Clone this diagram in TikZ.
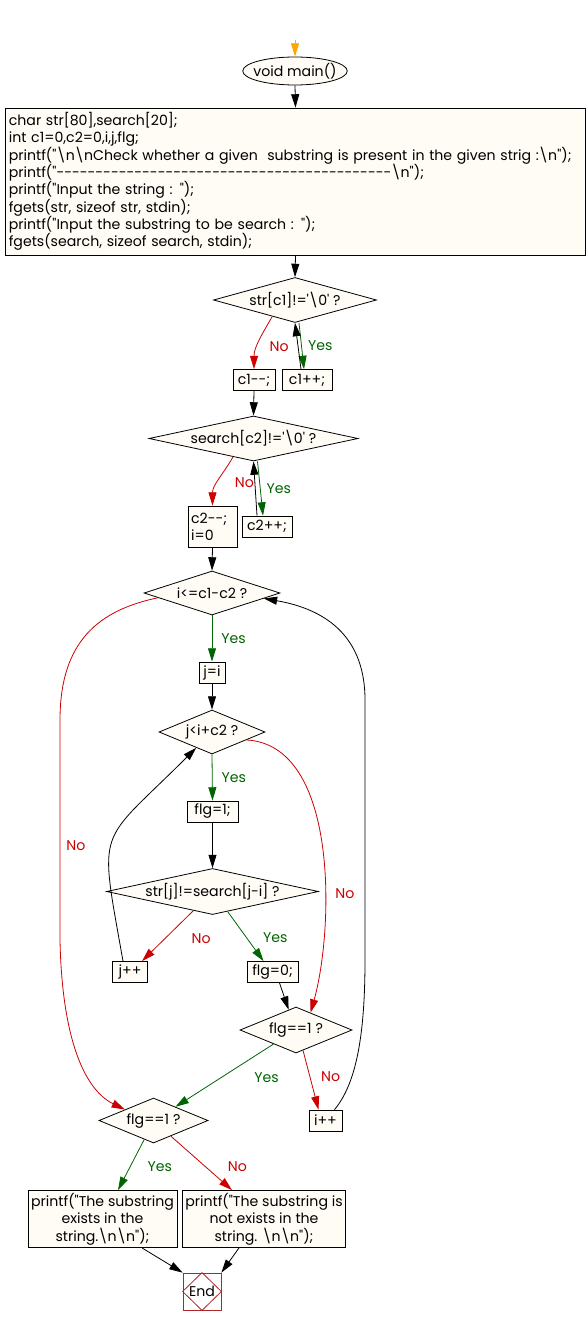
\documentclass[tikz,border=0pt]{standalone}
\usepackage{fontspec}
\setmainfont{Poppins}[Ligatures={TeXOff,CommonOff}]
\usetikzlibrary{arrows.meta, calc, shapes.geometric}
\definecolor{fcfill}{RGB}{255,252,245}
\definecolor{fcred}{RGB}{204,0,0}
\definecolor{fcgreen}{RGB}{0,100,0}
\definecolor{fcorange}{RGB}{255,165,0}
\definecolor{fcend}{RGB}{170,40,40}
\tikzset{
    fcbox/.style={rectangle, draw=black, fill=fcfill, line width=0.6pt, inner sep=2pt, minimum height=15.75pt, font=\fontsize{10.6}{13}\selectfont},
    fcdecision/.style={diamond, draw=black, fill=fcfill, line width=0.6pt, inner sep=0pt, font=\fontsize{10.6}{13}\selectfont},
    fcterminal/.style={ellipse, draw=black, fill=fcfill, line width=0.6pt, inner xsep=-3.5pt, inner ysep=0pt, font=\fontsize{10.6}{13}\selectfont},
    fcend/.style={rectangle, draw=fcend, fill=white, line width=0.6pt, inner sep=0pt, minimum width=28.5pt, minimum height=27.75pt, font=\fontsize{10.6}{13}\selectfont},
    fcarrow/.style={-{Triangle[length=10pt,width=6pt]}, line width=0.6pt, draw=black},
    fcyes/.style={fcarrow, draw=fcgreen},
    fcno/.style={fcarrow, draw=fcred},
    fcyeslabel/.style={text=fcgreen, font=\fontsize{10.6}{13}\selectfont, inner sep=0pt},
    fcnolabel/.style={text=fcred, font=\fontsize{10.6}{13}\selectfont, inner sep=0pt}
}

\begin{document}
\begin{tikzpicture}[x=0.75pt, y=-0.75pt]
    \useasboundingbox (0,0) rectangle (588,1326);

    % Start and declarations
    \coordinate (entry) at (295,40);
    \node[fcterminal, minimum width=78pt, minimum height=21pt] (main) at (295,71) {void main()};
    \node[fcbox, align=left, text width=430pt, minimum height=110.25pt, inner xsep=2.5pt] (init) at (295.5,181.5) {%
        char str[80],search[20];\\
        int c1=0,c2=0,i,j,flg;\\
        printf("\textbackslash n\textbackslash nCheck whether a given\ \ substring is present in the given strig :\textbackslash n");\\
        printf("-------------------------------------------\textbackslash n");\\
        printf("Input the string : ");\\
        fgets(str, sizeof str, stdin);\\
        printf("Input the substring to be search : ");\\
        fgets(search, sizeof search, stdin);};

    % Length counters
    \node[fcdecision, minimum width=122.25pt, minimum height=33.75pt, aspect=3.6] (d1) at (295,300) {str[c1]!='\textbackslash 0' ?};
    \node[fcbox, minimum width=31.5pt] (c1m) at (254,380) {c1--;};
    \node[fcbox, minimum width=37.5pt] (c1p) at (307,380) {c1++;};
    \node[fcdecision, minimum width=156.75pt, minimum height=33.75pt, aspect=4.6] (d2) at (253.5,438.5) {search[c2]!='\textbackslash 0' ?};
    \node[fcbox, minimum width=36.75pt, minimum height=30.75pt, text width=32pt, align=left] (c2m) at (212.5,526.5) {c2--;\\i=0};
    \node[fcbox, minimum width=37.5pt] (c2p) at (267,526.5) {c2++;};

    % Search loops
    \node[fcdecision, minimum width=102pt, minimum height=33pt, aspect=3.1] (d3) at (212,593) {i<=c1-c2 ?};
    \node[fcbox, minimum width=19.5pt] (ji) at (212,672.5) {j=i};
    \node[fcdecision, minimum width=79.5pt, minimum height=33pt, aspect=2.4] (d4) at (212,732) {j<i+c2 ?};
    \node[fcbox, minimum width=38.25pt] (f1) at (212.5,811.5) {flg=1;};
    \node[fcdecision, minimum width=156.75pt, minimum height=33.75pt, aspect=4.6] (d5) at (212.5,891.5) {str[j]!=search[j-i] ?};
    \node[fcbox, minimum width=26.25pt] (jpp) at (130,972) {j++};
    \node[fcbox, minimum width=38.25pt] (f0) at (272.5,972) {flg=0;};
    \node[fcdecision, minimum width=84pt, minimum height=34.5pt, aspect=2.4] (d6) at (296,1030) {flg==1 ?};
    \node[fcbox, minimum width=24.75pt] (ipp) at (325.5,1120.5) {i++};

    % Result
    \node[fcdecision, minimum width=81.75pt, minimum height=33.75pt, aspect=2.4] (d7) at (153.5,1120.5) {flg==1 ?};
    \node[fcbox, minimum width=111.75pt, minimum height=42pt, align=center] (outY) at (102.5,1219) {printf("The substring\\exists in the\\string.\textbackslash n\textbackslash n");};
    \node[fcbox, minimum width=121.5pt, minimum height=42pt, align=center] (outN) at (264,1219) {printf("The substring is\\not exists in the\\string. \textbackslash n\textbackslash n");};
    \node[fcend] (fin) at (202,1291.5) {End};
    \draw[draw=fcend, line width=0.6pt] (fin.north) -- (fin.east) -- (fin.south) -- (fin.west) -- cycle;

    % Straight flow
    \draw[fcarrow, draw=fcorange] (entry) -- (main.north);
    \draw[fcarrow] (main.south) -- (init.north);
    \draw[fcarrow] (init.south) -- (d1.north);
    \draw[fcarrow] (c1m.south) -- (d2.north);
    \draw[fcarrow] (c2m.south) -- (d3.north);
    \draw[fcarrow] (ji.south) -- (d4.north);
    \draw[fcarrow] (f1.south) -- (d5.north);
    \draw[fcarrow] ($(f0.south)+(7,0)$) -- (d6.110);
    \draw[fcarrow] ($(outY.south)+(39.5,0)$) -- (fin.north west);
    \draw[fcarrow] ($(outN.south)+(-25,0)$) -- (fin.north east);

    % Counting c1 and c2
    \draw[fcno] (d1.216) to[out=240,in=90] node[fcnolabel, right=9pt, pos=0.6] {No} (c1m.north);
    \draw[fcyes] ($(d1.south)+(4,0)$) -- node[fcyeslabel, right=4.7pt] {Yes} ($(c1p.north)+(-3,0)$);
    \draw[fcarrow] ($(c1p.north)+(-6,0)$) -- (d1.south);
    \draw[fcno] (d2.222) to[out=240,in=90] node[fcnolabel, right=12.5pt, pos=0.55] {No} (c2m.north);
    \draw[fcyes] ($(d2.south)+(4,0)$) -- node[fcyeslabel, right=4.5pt] {Yes} ($(c2p.north)+(-4,0)$);
    \draw[fcarrow] ($(c2p.north)+(-10,0)$) -- (d2.south);

    % Outer and inner loop
    \draw[fcyes] (d3.south) -- node[fcyeslabel, right=6.75pt] {Yes} (ji.north);
    \draw[fcyes] (d4.south) -- node[fcyeslabel, right=6.75pt] {Yes} (f1.north);
    \draw[fcno] (d5.225) -- node[fcnolabel, right=20pt, pos=0.56] {No} ($(jpp.north)+(12,0)$);
    \draw[fcyes] (d5.307) -- node[fcyeslabel, right=12pt, pos=0.53] {Yes} ($(f0.north)+(-9,0)$);
    \draw[fcarrow] ($(jpp.north)+(-7,0)$) to[out=100,in=225,looseness=1.6] (d4.225);
    \draw[fcno] (d4.347) .. controls +(93,5) and +(23,-82) .. node[fcnolabel, right=7.5pt, pos=0.63] {No} (d6.50);
    \draw[fcno] (d6.289) -- node[fcnolabel, right=8pt, pos=0.45] {No} ($(ipp.north)+(-7,0)$);
    \draw[fcyes] (d6.212) -- node[fcyeslabel, right=25pt, pos=0.54] {Yes} (d7.32);
    \draw[fcarrow] ($(ipp.north)+(9,0)$) .. controls (355,1085) and (365,1040) .. (365,960)
        -- (365,700) .. controls (365,640) and (330,610) .. (d3.354);
    \draw[fcno] (d3.185) .. controls (100,610) and (60,640) .. (60,720)
        -- node[fcnolabel, right=4.5pt, pos=0.573] {No} (60,940)
        .. controls (62,1040) and (85,1090) .. (d7.159);

    % Final decision
    \draw[fcyes] (d7.244) -- node[fcyeslabel, right=12.75pt, pos=0.53] {Yes} ($(outY.north)+(15.5,0)$);
    \draw[fcno] (d7.318) -- node[fcnolabel, right=17pt, pos=0.556] {No} ($(outN.north)+(-32,0)$);
\end{tikzpicture}
\end{document}
